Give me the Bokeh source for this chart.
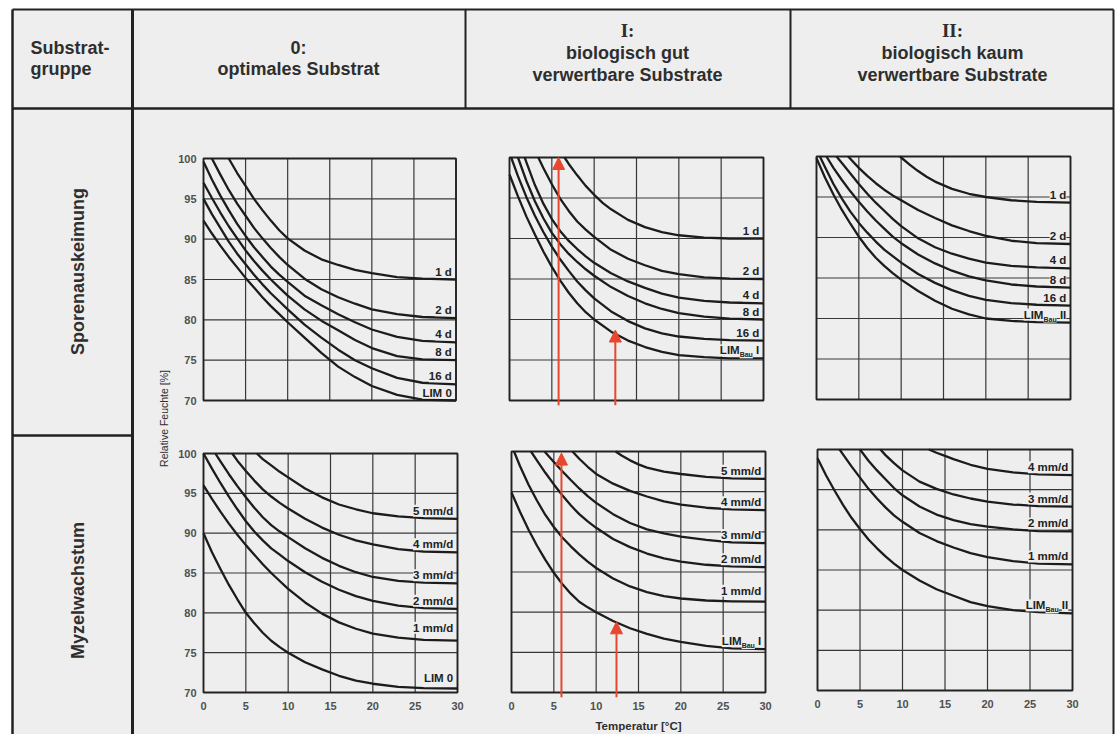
import math
from bokeh.plotting import figure
from bokeh.models import Range1d, Arrow, NormalHead
from bokeh.core.properties import value
from bokeh.embed import file_html
from bokeh.resources import INLINE

# ---------------- data ----------------
X_TICKS = [0, 5, 10, 15, 20, 25, 30]          # Temperatur [°C]
Y_TICKS = [70, 75, 80, 85, 90, 95, 100]       # Relative Feuchte [%]

G = [0, 1, 2, 3, 4, 5, 6, 7, 8, 9, 10, 12, 14, 16, 18, 20, 23, 26, 30]

# Sporenauskeimung, Substratgruppe 0
SPORE_0 = [
    ("1 d", [3, 4, 5, 6, 7, 8, 9, 10, 12, 14, 16, 18, 20, 23, 26, 30],
            [100, 98.2, 96.6, 95.0, 93.6, 92.3, 91.1, 90.1, 88.6, 87.5, 86.8, 86.2, 85.8, 85.3, 85.1, 85.0]),
    ("2 d", [1, 2, 3, 4, 5, 6, 7, 8, 9, 10, 12, 14, 16, 18, 20, 23, 26, 30],
            [100, 98.0, 96.1, 94.4, 92.9, 91.4, 90.1, 88.9, 87.8, 86.8, 85.1, 83.8, 82.8, 82.0, 81.3, 80.7, 80.35, 80.2]),
    ("4 d", G, [99.6, 97.4, 95.4, 93.6, 91.9, 90.4, 89.0, 87.8, 86.6, 85.6, 84.7, 83.0, 81.8, 80.7, 79.7, 78.8, 77.9, 77.4, 77.2]),
    ("8 d", G, [97.0, 95.1, 93.3, 91.6, 90.1, 88.6, 87.3, 86.1, 85.0, 84.0, 83.0, 81.3, 79.9, 78.7, 77.5, 76.5, 75.5, 75.1, 75.0]),
    ("16 d", G, [95.0, 93.1, 91.4, 89.7, 88.2, 86.9, 85.6, 84.4, 83.3, 82.3, 81.3, 79.4, 77.8, 76.3, 75.0, 74.0, 72.8, 72.2, 72.0]),
    ("LIM 0", G, [92.3, 90.7, 89.2, 87.8, 86.5, 85.2, 84.0, 82.8, 81.7, 80.7, 79.7, 77.8, 75.9, 74.2, 72.9, 71.8, 70.7, 70.1, 70.0]),
]

# Sporenauskeimung, Substratgruppe I
SPORE_I = [
    ("1 d", [6.5, 7, 8, 9, 10, 11, 12, 14, 16, 18, 20, 23, 26, 30],
            [100, 99.2, 97.8, 96.5, 95.4, 94.4, 93.6, 92.3, 91.4, 90.8, 90.4, 90.1, 90.0, 90.0]),
    ("2 d", [3.4, 4, 5, 6, 7, 8, 9, 10, 12, 14, 16, 18, 20, 23, 26, 30],
            [100, 98.7, 96.7, 94.9, 93.4, 92.1, 91.1, 90.2, 88.6, 87.5, 86.7, 86.0, 85.6, 85.2, 85.05, 85.0]),
    ("4 d", [1.8, 2, 3, 4, 5, 6, 7, 8, 9, 10, 12, 14, 16, 18, 20, 23, 26, 30],
            [100, 99.4, 96.6, 94.3, 92.4, 90.9, 89.7, 88.7, 87.8, 87.0, 85.7, 84.7, 83.9, 83.2, 82.7, 82.3, 82.1, 82.0]),
    ("8 d", [1, 2, 3, 4, 5, 6, 7, 8, 9, 10, 12, 14, 16, 18, 20, 23, 26, 30],
            [100, 97.1, 94.6, 92.5, 90.7, 89.3, 88.1, 87.1, 86.2, 85.4, 84.0, 82.9, 82.0, 81.3, 80.8, 80.35, 80.1, 80.0]),
    ("16 d", [0.2, 1, 2, 3, 4, 5, 6, 7, 8, 9, 10, 12, 14, 16, 18, 20, 23, 26, 30],
             [100, 97.7, 95.1, 92.8, 90.8, 89.0, 87.4, 86.0, 84.7, 83.6, 82.6, 81.0, 79.8, 78.9, 78.3, 77.9, 77.6, 77.45, 77.4]),
    ("LIM_Bau I", G, [97.9, 95.2, 92.7, 90.5, 88.4, 86.5, 84.8, 83.3, 82.0, 80.9, 80.0, 78.5, 77.4, 76.6, 76.0, 75.6, 75.35, 75.2, 75.2]),
]

# Sporenauskeimung, Substratgruppe II
SPORE_II = [
    ("1 d", [9.85, 11, 12, 13, 14, 16, 18, 20, 23, 26, 30],
            [100, 99.0, 98.2, 97.5, 96.9, 96.0, 95.4, 95.0, 94.6, 94.4, 94.3]),
    ("2 d", [3.74, 5, 6, 7, 8, 9, 10, 12, 14, 16, 18, 20, 23, 26, 30],
            [100, 98.6, 97.6, 96.7, 95.9, 95.2, 94.6, 93.4, 92.4, 91.5, 90.8, 90.2, 89.6, 89.3, 89.2]),
    ("4 d", [2.36, 3, 4, 5, 6, 7, 8, 9, 10, 12, 14, 16, 18, 20, 23, 26, 30],
            [100, 99.2, 97.9, 96.6, 95.4, 94.3, 93.3, 92.3, 91.4, 89.9, 88.8, 88.0, 87.4, 86.9, 86.5, 86.3, 86.2]),
    ("8 d", [1.18, 2, 3, 4, 5, 6, 7, 8, 9, 10, 12, 14, 16, 18, 20, 23, 26, 30],
            [100, 98.6, 97.1, 95.7, 94.4, 93.2, 92.1, 91.1, 90.1, 89.3, 87.9, 86.8, 85.9, 85.2, 84.7, 84.2, 83.95, 83.8]),
    ("16 d", [0.4, 1, 2, 3, 4, 5, 6, 7, 8, 9, 10, 12, 14, 16, 18, 20, 23, 26, 30],
             [100, 98.7, 96.6, 94.8, 93.2, 91.8, 90.6, 89.5, 88.5, 87.7, 86.9, 85.5, 84.4, 83.5, 82.8, 82.3, 81.9, 81.7, 81.6]),
    ("LIM_Bau II", G, [99.8, 97.4, 95.3, 93.4, 91.7, 90.1, 88.7, 87.5, 86.5, 85.6, 84.8, 83.4, 82.2, 81.2, 80.5, 80.0, 79.7, 79.55, 79.5]),
]

# Myzelwachstum, Substratgruppe 0
MYZEL_0 = [
    ("5 mm/d", [6.3, 7, 8, 9, 10, 12, 14, 16, 18, 20, 23, 26, 30],
               [100, 99.3, 98.5, 97.7, 97.0, 95.6, 94.5, 93.6, 93.0, 92.5, 92.1, 91.9, 91.8]),
    ("4 mm/d", [3.4, 4, 5, 6, 7, 8, 9, 10, 12, 14, 16, 18, 20, 23, 26, 30],
               [100, 99.1, 97.8, 96.6, 95.5, 94.6, 93.8, 93.1, 91.8, 90.7, 89.8, 89.1, 88.6, 88.0, 87.7, 87.6]),
    ("3 mm/d", [1.4, 2, 3, 4, 5, 6, 7, 8, 9, 10, 12, 14, 16, 18, 20, 23, 26, 30],
               [100, 99.0, 97.4, 95.9, 94.5, 93.2, 92.0, 91.0, 90.2, 89.5, 88.1, 86.9, 85.9, 85.1, 84.5, 84.0, 83.8, 83.7]),
    ("2 mm/d", G, [100, 98.1, 96.3, 94.6, 93.0, 91.5, 90.2, 89.1, 88.1, 87.3, 86.5, 85.1, 83.9, 82.9, 82.1, 81.5, 80.9, 80.6, 80.5]),
    ("1 mm/d", G, [96.0, 94.3, 92.7, 91.2, 89.8, 88.5, 87.3, 86.1, 85.0, 84.0, 83.0, 81.3, 79.9, 78.8, 78.0, 77.4, 76.9, 76.6, 76.5]),
    ("LIM 0", G, [90.0, 87.6, 85.5, 83.5, 81.7, 80.0, 78.7, 77.5, 76.5, 75.7, 75.0, 73.8, 72.9, 72.1, 71.5, 71.1, 70.7, 70.55, 70.5]),
]

# Myzelwachstum, Substratgruppe I
MYZEL_I = [
    ("5 mm/d", [12.3, 13, 14, 15, 16, 18, 20, 23, 26, 30],
               [100, 99.5, 98.9, 98.4, 98.0, 97.5, 97.2, 96.85, 96.65, 96.6]),
    ("4 mm/d", [7.2, 8, 9, 10, 12, 14, 16, 18, 20, 23, 26, 30],
               [100, 99.1, 98.1, 97.2, 96.0, 95.1, 94.4, 93.8, 93.4, 93.0, 92.8, 92.7]),
    ("3 mm/d", [3.9, 5, 6, 7, 8, 9, 10, 12, 14, 16, 18, 20, 23, 26, 30],
               [100, 98.7, 97.55, 96.45, 95.4, 94.45, 93.6, 92.2, 91.1, 90.3, 89.8, 89.4, 89.0, 88.7, 88.6]),
    ("2 mm/d", [2.3, 3, 4, 5, 6, 7, 8, 9, 10, 12, 14, 16, 18, 20, 23, 26, 30],
               [100, 98.9, 97.35, 95.9, 94.55, 93.3, 92.2, 91.3, 90.5, 89.1, 88.1, 87.3, 86.7, 86.3, 85.9, 85.7, 85.6]),
    ("1 mm/d", [0.3, 1, 2, 3, 4, 5, 6, 7, 8, 9, 10, 12, 14, 16, 18, 20, 23, 26, 30],
               [100, 98.2, 95.9, 93.9, 92.1, 90.6, 89.3, 88.2, 87.2, 86.3, 85.5, 84.2, 83.2, 82.5, 82.0, 81.7, 81.45, 81.35, 81.3]),
    ("LIM_Bau I", G, [94.9, 92.5, 90.3, 88.3, 86.5, 84.9, 83.5, 82.3, 81.3, 80.6, 80.0, 78.9, 78.0, 77.3, 76.7, 76.3, 75.8, 75.5, 75.4]),
]

# Myzelwachstum, Substratgruppe II
MYZEL_II = [
    ("4 mm/d", [13.1, 14, 15, 16, 18, 20, 23, 26, 30],
               [100, 99.6, 99.2, 98.8, 98.1, 97.6, 97.15, 96.9, 96.8]),
    ("3 mm/d", [7.4, 8, 9, 10, 12, 14, 16, 18, 20, 23, 26, 30],
               [100, 99.3, 98.3, 97.4, 96.0, 95.1, 94.4, 93.9, 93.5, 93.15, 92.95, 92.9]),
    ("2 mm/d", [5, 6, 7, 8, 9, 10, 12, 14, 16, 18, 20, 23, 26, 30],
               [100, 98.6, 97.4, 96.3, 95.2, 94.3, 92.9, 91.9, 91.2, 90.7, 90.4, 90.05, 89.85, 89.8]),
    ("1 mm/d", [2.6, 3, 4, 5, 6, 7, 8, 9, 10, 12, 14, 16, 18, 20, 23, 26, 30],
               [100, 99.4, 97.9, 96.5, 95.1, 93.9, 92.8, 91.8, 91.0, 89.6, 88.6, 87.8, 87.1, 86.6, 86.1, 85.8, 85.7]),
    ("LIM_Bau II", G, [98.9, 96.8, 94.9, 93.1, 91.5, 90.1, 88.8, 87.7, 86.7, 85.8, 85.0, 83.7, 82.6, 81.8, 81.0, 80.5, 80.0, 79.75, 79.6]),
]

# red arrows (temperature, humidity reached)
ARROWS_SPORE_I_X = [5.8, 12.5]
ARROWS_SPORE_I_TIP = [100.0, 78.7]
ARROWS_MYZEL_I_X = [5.9, 12.4]
ARROWS_MYZEL_I_TIP = [99.8, 78.8]

HEAD_LEFT = ["Substrat-", "gruppe"]
HEAD_0 = ["0:", "optimales Substrat"]
HEAD_I = ["I:", "biologisch gut", "verwertbare Substrate"]
HEAD_II = ["II:", "biologisch kaum", "verwertbare Substrate"]
ROW_LABELS = ["Sporenauskeimung", "Myzelwachstum"]
Y_TITLE = "Relative Feuchte [%]"
X_TITLE = "Temperatur [°C]"

# ---------------- drawing ----------------
W, H = 1118, 734
BG = "#eeeeee"
INK = "#222222"
GRIDC = "#383838"
TXT = "#2e2e2e"
TICKC = "#505050"
RED = "#e8462e"
SANS = value("Liberation Sans")
SERIF = value("Liberation Serif")

# extra label lift (px) where the reference leaves a wider gap
LABEL_LIFT = {("p4", "1 mm/d"): 5, ("p4", "LIM 0"): 3, ("p5", "1 mm/d"): 3}

p = figure(width=W, height=H, x_range=Range1d(0, W), y_range=Range1d(0, H),
           x_axis_location=None, y_axis_location=None, min_border=0,
           output_backend="svg", toolbar_location=None)
p.grid.visible = False
p.outline_line_color = None
p.background_fill_color = "white"
p.border_fill_color = "white"


def Y(py):
    return H - py


def seg(x0, y0, x1, y1, w):
    p.segment(x0=[x0], y0=[Y(y0)], x1=[x1], y1=[Y(y1)], line_color=INK, line_width=w)


# table
LEFT, RIGHT, TOP, HEAD_B, COL_A = 12, 1113, 9, 108, 132
p.quad(left=[LEFT], right=[RIGHT], bottom=[0], top=[Y(TOP)], fill_color=BG, line_color=None)
seg(LEFT, TOP, RIGHT, TOP, 2)
seg(LEFT, TOP, LEFT, H, 2.5)
seg(RIGHT, TOP, RIGHT, H, 2)
seg(LEFT, HEAD_B, RIGHT, HEAD_B, 2.5)
seg(COL_A, TOP, COL_A, H, 3)
seg(465, TOP, 465, HEAD_B, 2)
seg(790, TOP, 790, HEAD_B, 2)
seg(LEFT, 435, COL_A, 435, 2.5)


def htext(x, y, t, align="center", font=SANS, style="bold", size="18px", angle=0.0):
    p.text(x=[x], y=[Y(y)], text=[t], text_align=align, text_baseline="middle",
           text_font=font, text_font_style=style, text_font_size=size,
           text_color=TXT, angle=angle)


htext(30, 47, HEAD_LEFT[0], align="left")
htext(30, 68, HEAD_LEFT[1], align="left")
htext(298, 47, HEAD_0[0])
htext(298, 68, HEAD_0[1])
for cx, lines in ((627, HEAD_I), (952, HEAD_II)):
    htext(cx, 30, lines[0], font=SERIF, size="19px")
    htext(cx, 52, lines[1])
    htext(cx, 74, lines[2])
htext(77, 271, ROW_LABELS[0], angle=math.pi / 2)
htext(77, 590, ROW_LABELS[1], angle=math.pi / 2)

X0, X1 = X_TICKS[0], X_TICKS[-1]
Y0, Y1 = Y_TICKS[0], Y_TICKS[-1]

BOLD_W = {"L": 0.611, "I": 0.278, "M": 0.833, "B": 0.722, "a": 0.556, "u": 0.611, " ": 0.278}


def twidth(s, size):
    return sum(BOLD_W.get(c, 0.556) for c in s) * size


LBL = 11.5


def panel(name, L, R, T, B, curves, yticks=False, xticks=False, arrows=None):
    kx = (X1 - X0) / (R - L)
    ky = (Y1 - Y0) / (B - T)
    p.extra_x_ranges[name] = Range1d(start=X0 - L * kx, end=X1 + (W - R) * kx)
    p.extra_y_ranges[name] = Range1d(start=Y0 - (H - B) * ky, end=Y1 + T * ky)
    r = dict(x_range_name=name, y_range_name=name)
    n = len(X_TICKS)
    m = len(Y_TICKS)
    p.segment(x0=X_TICKS, y0=[Y0] * n, x1=X_TICKS, y1=[Y1] * n, line_color=GRIDC, line_width=1.2, **r)
    p.segment(x0=[X0] * m, y0=Y_TICKS, x1=[X1] * m, y1=Y_TICKS, line_color=GRIDC, line_width=1.2, **r)
    p.quad(left=[X0], right=[X1], bottom=[Y0], top=[Y1], fill_color=None,
           line_color=INK, line_width=1.8, **r)
    for label, xs, ys in curves:
        p.line(xs, ys, line_color="#1c1c1c", line_width=2.3, line_join="round", **r)
    lx = X1 - 0.5
    for label, xs, ys in curves:
        ye = ys[-1]
        lift = LABEL_LIFT.get((name, label), 0)
        common = dict(text_baseline="bottom", text_align="right", text_font=SANS,
                      text_font_style="bold", text_color=INK,
                      background_fill_color=BG, **r)
        if "_" in label:
            main, rest = label.split("_")
            sub, suffix = rest.split(" ")
            w_suf = twidth(" " + suffix, LBL)
            w_sub = twidth(sub, 7)
            p.text(x=[lx], y=[ye], text=[suffix], text_font_size=f"{LBL}px", y_offset=-2 - lift, **common)
            p.text(x=[lx], y=[ye], text=[sub], text_font_size="7px", y_offset=-lift,
                   x_offset=-w_suf, **common)
            p.text(x=[lx], y=[ye], text=[main], text_font_size=f"{LBL}px", y_offset=-2 - lift,
                   x_offset=-(w_suf + w_sub), **common)
        else:
            p.text(x=[lx], y=[ye], text=[label], text_font_size=f"{LBL}px", y_offset=-2 - lift, **common)
    if arrows:
        axs, tips = arrows
        for ax, tip in zip(axs, tips):
            p.add_layout(Arrow(x_start=ax, y_start=Y0 - 0.6, x_end=ax, y_end=tip,
                               line_color=RED, line_width=2,
                               end=NormalHead(size=12, fill_color=RED, line_color=RED, line_width=1),
                               **r))
    if yticks:
        p.text(x=[X0] * m, y=Y_TICKS, text=[str(t) for t in Y_TICKS], text_align="right",
               text_baseline="middle", x_offset=-7, text_font=SANS, text_font_style="bold",
               text_font_size="11px", text_color=TICKC, **r)
    if xticks:
        p.text(x=X_TICKS, y=[Y0] * n, text=[str(t) for t in X_TICKS], text_align="center",
               text_baseline="top", y_offset=9, text_font=SANS, text_font_style="bold",
               text_font_size="11px", text_color=TICKC, **r)


panel("p1", 203, 455.5, 158, 400, SPORE_0, yticks=True)
panel("p2", 509, 763, 157, 400, SPORE_I, arrows=(ARROWS_SPORE_I_X, ARROWS_SPORE_I_TIP))
panel("p3", 816, 1070, 156, 399, SPORE_II)
panel("p4", 203, 457, 453, 692, MYZEL_0, yticks=True, xticks=True)
panel("p5", 511, 765, 451, 692, MYZEL_I, xticks=True, arrows=(ARROWS_MYZEL_I_X, ARROWS_MYZEL_I_TIP))
panel("p6", 817, 1072, 449, 690, MYZEL_II, xticks=True)

p.text(x=[163], y=[Y(418)], text=[Y_TITLE], angle=math.pi / 2, text_align="center",
       text_baseline="middle", text_font=SANS, text_font_size="10.5px", text_color=TXT)
p.text(x=[638], y=[Y(725)], text=[X_TITLE], text_align="center", text_baseline="middle",
       text_font=SANS, text_font_style="bold", text_font_size="11.5px", text_color=TXT)

open("out.html", "w").write(file_html(p, INLINE))
